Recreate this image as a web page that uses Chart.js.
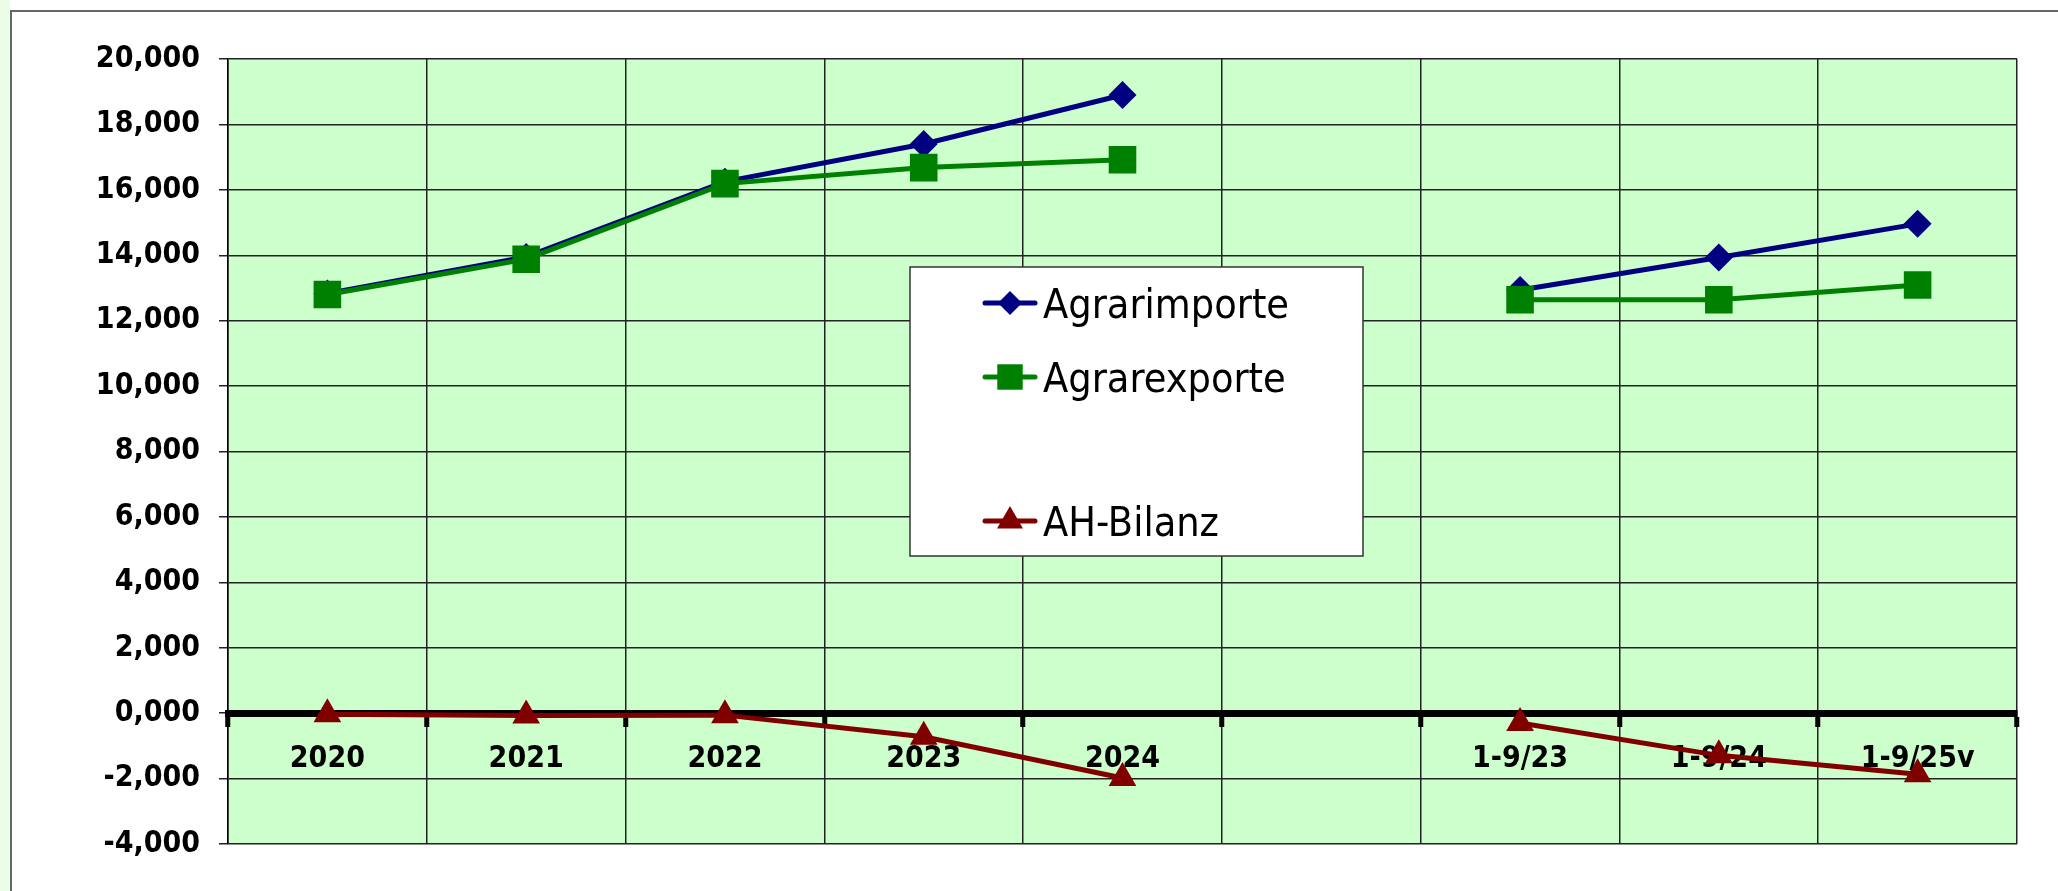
<!DOCTYPE html>
<html>
<head>
<meta charset="utf-8">
<script src="https://cdn.jsdelivr.net/npm/chart.js@4.4.1/dist/chart.umd.min.js"></script>
<style>
  html, body { margin: 0; padding: 0; width: 2058px; height: 891px; overflow: hidden; background: #fff; }
  #strip { position: absolute; left: 0; top: 0; width: 10px; height: 891px; background: #ebfde6; }
  #frame { position: absolute; left: 10px; top: 10px; width: 2060px; height: 890px; background: #fff;
           border-left: 2px solid #666; border-top: 2px solid #666; }
  #chart { position: absolute; left: 0; top: 0; }
</style>
</head>
<body>
<div id="strip"></div>
<div id="frame"></div>
<canvas id="chart" width="2058" height="891"></canvas>
<script>
// values (Mrd. EUR)
const categories = ['2020', '2021', '2022', '2023', '2024', '', '1-9/23', '1-9/24', '1-9/25v'];
const agrarimporte = [12.83, 13.95, 16.25, 17.40, 18.90, null, 12.94, 13.93, 14.96];
const agrarexporte = [12.80, 13.88, 16.19, 16.68, 16.92, null, 12.64, 12.64, 13.09];
const ahBilanz = [-0.03, -0.07, -0.06, -0.72, -1.98, null, -0.30, -1.29, -1.87];
const yTicks = [-4, -2, 0, 2, 4, 6, 8, 10, 12, 14, 16, 18, 20];

const FONT = '"DejaVu Sans Condensed", "Noto Sans", sans-serif';

// light green plot area
const plotBackground = {
    id: 'plotBackground',
    beforeDraw(chart) {
        const { ctx, chartArea: a } = chart;
        ctx.save();
        ctx.fillStyle = '#ccffcc';
        ctx.fillRect(a.left, a.top, a.right - a.left, a.bottom - a.top);
        ctx.restore();
    }
};

// legend box drawn inside the plot, with an empty slot before AH-Bilanz
const legendBox = {
    id: 'legendBox',
    afterDraw(chart) {
        const ctx = chart.ctx;
        const box = { left: 910, top: 267, width: 453, height: 289 };
        const rows = [303, 377, 521];
        ctx.save();
        ctx.fillStyle = '#fff';
        ctx.fillRect(box.left, box.top, box.width, box.height);
        ctx.strokeStyle = '#333';
        ctx.lineWidth = 1.5;
        ctx.strokeRect(box.left, box.top, box.width, box.height);

        chart.data.datasets.forEach((ds, i) => {
            const y = rows[i];
            ctx.strokeStyle = ds.borderColor;
            ctx.lineWidth = 5;
            ctx.lineCap = 'round';
            ctx.beginPath();
            ctx.moveTo(985, y);
            ctx.lineTo(1035, y);
            ctx.stroke();

            ctx.fillStyle = ds.pointBackgroundColor;
            ctx.strokeStyle = ds.pointBorderColor;
            const opts = { pointStyle: ds.pointStyle, radius: ds.legendRadius, rotation: 0, borderWidth: 0 };
            if (Chart.helpers && Chart.helpers.drawPoint) {
                Chart.helpers.drawPoint(ctx, opts, 1010, y);
            } else {
                ctx.beginPath();
                ctx.arc(1010, y, ds.legendRadius * 0.7, 0, Math.PI * 2);
                ctx.fill();
            }

            ctx.fillStyle = '#000';
            ctx.font = '41px ' + FONT;
            ctx.textBaseline = 'alphabetic';
            ctx.textAlign = 'left';
            ctx.fillText(ds.label, 1043, y + 15);
        });
        ctx.restore();
    }
};

new Chart(document.getElementById('chart'), {
    type: 'line',
    data: {
        labels: categories,
        datasets: [
            {
                label: 'Agrarimporte', data: agrarimporte, order: 3,
                borderColor: '#000080', backgroundColor: '#000080',
                pointBackgroundColor: '#000080', pointBorderColor: '#000080',
                pointStyle: 'rectRot', pointRadius: 14, legendRadius: 12,
                borderWidth: 5, pointBorderWidth: 0, tension: 0
            },
            {
                label: 'Agrarexporte', data: agrarexporte, order: 2,
                borderColor: '#008000', backgroundColor: '#008000',
                pointBackgroundColor: '#008000', pointBorderColor: '#008000',
                pointStyle: 'rect', pointRadius: 19.5, legendRadius: 18,
                borderWidth: 5, pointBorderWidth: 0, tension: 0
            },
            {
                label: 'AH-Bilanz', data: ahBilanz, order: 1,
                borderColor: '#800000', backgroundColor: '#800000',
                pointBackgroundColor: '#800000', pointBorderColor: '#800000',
                pointStyle: 'triangle', pointRadius: 16, legendRadius: 15,
                borderWidth: 5, pointBorderWidth: 0, tension: 0
            }
        ]
    },
    options: {
        responsive: false,
        animation: false,
        devicePixelRatio: 1,
        spanGaps: false,
        layout: { padding: { left: 0, top: 59, right: 41, bottom: 47 } },
        plugins: {
            legend: { display: false },
            tooltip: { enabled: false },
            title: { display: false }
        },
        scales: {
            x: {
                type: 'category',
                offset: true,
                position: { y: 0 },
                afterFit(s) { s.height = 0; },
                grid: { offset: true, color: '#222', lineWidth: 1.5, drawTicks: true,
                        tickLength: 10, tickWidth: 5, tickColor: '#000' },
                border: { display: true, color: '#000', width: 7 },
                ticks: { color: '#000', padding: 18, maxRotation: 0, autoSkip: false,
                         font: { family: FONT, size: 30, weight: 'bold' } }
            },
            y: {
                min: -4,
                max: 20,
                afterBuildTicks(s) { s.ticks = yTicks.map(v => ({ value: v })); },
                afterFit(s) { s.width = 228; },
                grid: { color: '#222', lineWidth: 1.5, tickLength: 9, tickColor: '#222' },
                border: { display: true, color: '#000', width: 1.5 },
                ticks: { color: '#000', padding: 19,
                         font: { family: FONT, size: 30, weight: 'bold' },
                         callback: v => v.toFixed(3).replace('.', ',') }
            }
        }
    },
    plugins: [plotBackground, legendBox]
});
</script>
</body>
</html>
